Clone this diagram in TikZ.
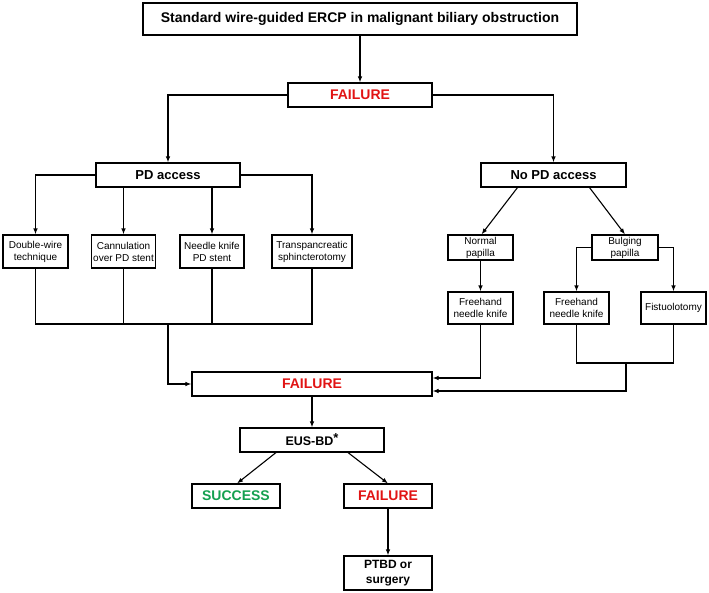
\documentclass[tikz,border=0pt]{standalone}
\usepackage{fontspec}
\setmainfont{Liberation Sans}
\usetikzlibrary{arrows.meta}
\definecolor{failred}{RGB}{225,20,20}
\definecolor{okgreen}{RGB}{20,160,80}
\tikzset{
    box/.style={draw, line width=1.1pt, inner sep=0pt, align=center},
    bigbox/.style={box, font=\fontsize{13}{15}\selectfont\bfseries},
    smallbox/.style={box, font=\fontsize{10}{12}\selectfont},
    redtxt/.style={bigbox, text=failred, font=\fontsize{14}{16}\selectfont\bfseries},
    arr/.style={-{Latex[length=6pt,width=4.5pt]}, line width=1.1pt},
    ln/.style={line width=1.1pt}
}
\begin{document}
\begin{tikzpicture}[x=1pt,y=-1pt]
    \useasboundingbox (0,0) rectangle (709,592);
    \node[bigbox, font=\fontsize{14}{16}\selectfont\bfseries, minimum width=434pt, minimum height=32pt] (top) at (360,19) {Standard wire-guided ERCP in malignant biliary obstruction};
    \node[redtxt, minimum width=144pt, minimum height=24pt] (fail1) at (360,95) {FAILURE};
    \node[bigbox, minimum width=144pt, minimum height=24pt] (pd) at (168,175) {PD access};
    \node[bigbox, minimum width=145pt, minimum height=24pt] (nopd) at (553.5,175) {No PD access};

    \node[smallbox, minimum width=65pt, minimum height=33pt] (dw) at (35.5,251.5) {Double-wire\\technique};
    \node[smallbox, minimum width=64pt, minimum height=33pt] (can) at (123.5,251.5) {Cannulation\\over PD stent};
    \node[smallbox, minimum width=64pt, minimum height=33pt] (nk) at (212,251.5) {Needle knife\\PD stent};
    \node[smallbox, minimum width=80pt, minimum height=33pt] (tp) at (312,251.5) {Transpancreatic\\sphincterotomy};

    \node[smallbox, minimum width=65pt, minimum height=25pt] (np) at (480.5,247.5) {Normal\\papilla};
    \node[smallbox, minimum width=66pt, minimum height=25pt] (bp) at (625,247.5) {Bulging\\papilla};
    \node[smallbox, minimum width=65pt, minimum height=32pt] (fh1) at (480.5,308) {Freehand\\needle knife};
    \node[smallbox, minimum width=65pt, minimum height=32pt] (fh2) at (576.5,308) {Freehand\\needle knife};
    \node[smallbox, minimum width=65pt, minimum height=32pt] (fis) at (673.5,308) {Fistuolotomy};

    \node[redtxt, minimum width=240pt, minimum height=24pt] (fail2) at (312,384) {FAILURE};
    \node[bigbox, font=\fontsize{12.5}{15}\selectfont\bfseries, minimum width=144pt, minimum height=24pt] (eus) at (312,440) {EUS-BD\raisebox{3pt}{\fontsize{13}{15}\selectfont *}};
    \node[redtxt, text=okgreen, minimum width=88pt, minimum height=24pt] (succ) at (236,496) {SUCCESS};
    \node[redtxt, minimum width=88pt, minimum height=24pt] (fail3) at (388,496) {FAILURE};
    \node[bigbox, font=\fontsize{12}{15}\selectfont\bfseries, minimum width=88pt, minimum height=34pt] (ptbd) at (388,573) {PTBD or\\surgery};

    \coordinate (bus1) at (168,324);
    \coordinate (bus2) at (626,363);

    \draw[arr] (top) -- (fail1);
    \draw[arr] (fail1.west) -| (pd.north);
    \draw[arr] (fail1.east) -| (nopd.north);

    \draw[arr] (pd.west) -| (dw.north);
    \draw[arr] (pd.east) -| (tp.north);
    \draw[arr] (pd.south -| can.north) -- (can.north);
    \draw[arr] (pd.south -| nk.north) -- (nk.north);
    \draw[ln] (dw.south) |- (bus1) -| (tp.south);
    \draw[ln] (can.south) -- (can.south |- bus1);
    \draw[ln] (nk.south) -- (nk.south |- bus1);
    \draw[arr] (bus1) |- (fail2.west);

    \draw[arr] ([xshift=-36pt]nopd.south) -- ([xshift=1pt]np.north);
    \draw[arr] ([xshift=36pt]nopd.south) -- (bp.north);
    \draw[arr] (np) -- (fh1);
    \draw[arr] (bp.west) -| (fh2.north);
    \draw[arr] (bp.east) -| (fis.north);
    \draw[arr] (fh1.south) |- ([yshift=6pt]fail2.east);
    \draw[ln] (fh2.south) |- (bus2) -| (fis.south);
    \draw[arr] (bus2) |- ([yshift=-7pt]fail2.east);

    \draw[arr] (fail2) -- (eus);
    \draw[arr] ([xshift=-36pt]eus.south) -- ([xshift=1pt]succ.north);
    \draw[arr] ([xshift=36pt]eus.south) -- (fail3.north);
    \draw[arr] (fail3) -- (ptbd);
\end{tikzpicture}
\end{document}
